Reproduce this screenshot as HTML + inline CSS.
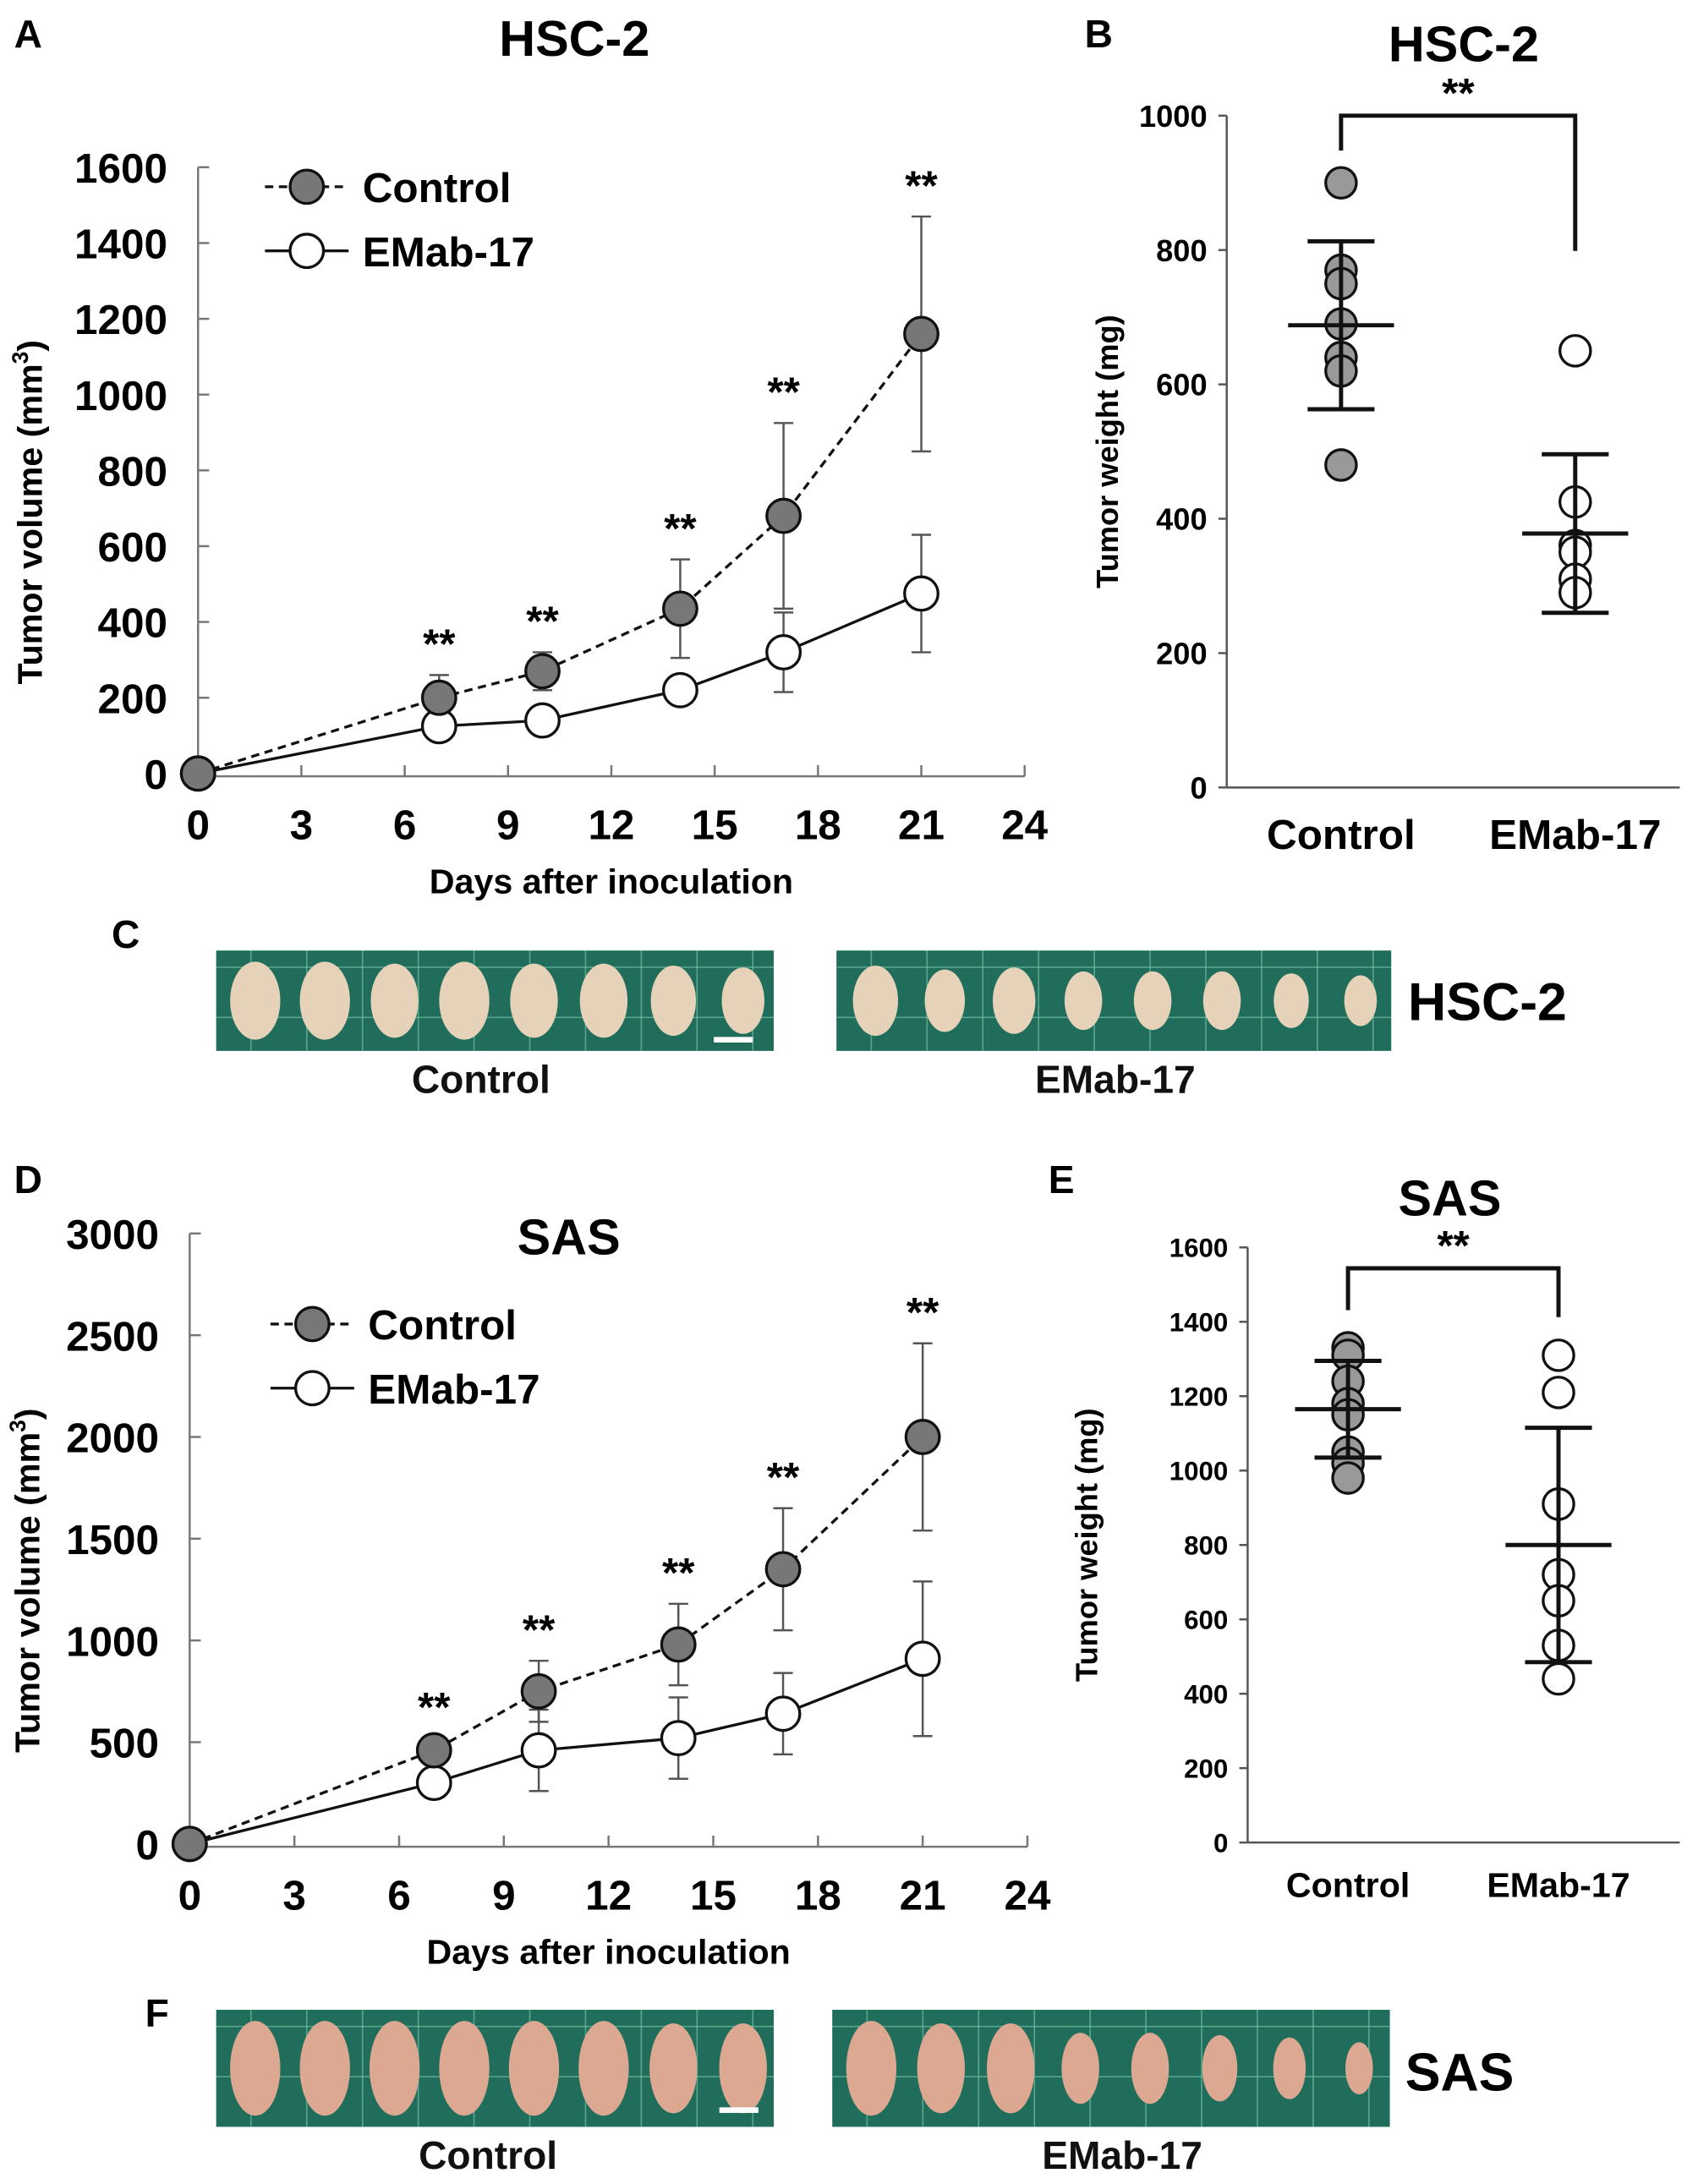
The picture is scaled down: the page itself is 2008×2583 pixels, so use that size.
<!DOCTYPE html>
<html><head><meta charset="utf-8">
<style>
html,body{margin:0;padding:0;background:#fff;}
svg{display:block;font-family:"Liberation Sans",Arial,sans-serif;font-weight:bold;}
</style></head>
<body>
<svg id="fig" width="2008" height="2583" viewBox="0 0 1218 1567" xmlns="http://www.w3.org/2000/svg">
<rect width="1218" height="1567" fill="#fff"/>
<g id="static">
<text x="10" y="34" font-size="28">A</text>
<text x="412" y="40" font-size="36" text-anchor="middle">HSC-2</text>
<text x="778" y="34" font-size="28">B</text>
<text x="1050" y="44" font-size="36" text-anchor="middle">HSC-2</text>
<text x="80" y="680" font-size="28">C</text>
<text x="10" y="856" font-size="28">D</text>
<text x="408" y="900" font-size="36" text-anchor="middle">SAS</text>
<text x="752" y="856" font-size="28">E</text>
<text x="1040" y="872" font-size="36" text-anchor="middle">SAS</text>
<text x="104" y="1454" font-size="28">F</text>
</g>
<g id="charts"></g>
<g id="photos"></g>
</svg>
<script>
const NS="http://www.w3.org/2000/svg";
// Panel A data
const daysA=[0,7,10,14,17,21];
const ctrlA=[0,200,270,435,680,1160];
const ctrlErrA=[0,60,50,130,245,310];
const emabA=[0,125,140,220,320,475];
const emabErrA=[0,25,20,30,105,155];
const yTicksA=[0,200,400,600,800,1000,1200,1400,1600];
const xTicks=[0,3,6,9,12,15,18,21,24];
// Panel D data
const daysD=[0,7,10,14,17,21];
const ctrlD=[0,460,750,980,1350,2000];
const ctrlErrD=[0,60,150,200,300,460];
const emabD=[0,300,460,520,640,910];
const emabErrD=[0,40,200,200,200,380];
const yTicksD=[0,500,1000,1500,2000,2500,3000];
// Panel B data
const ctrlB=[900,770,750,690,640,620,480];
const emabB=[650,425,360,350,310,290];
const meanB=[688,378];
const sdB=[125,118];
const yTicksB=[0,200,400,600,800,1000];
// Panel E data
const ctrlE=[1330,1310,1240,1180,1150,1050,1020,980];
const emabE=[1310,1210,910,720,650,530,440];
const meanE=[1165,800];
const sdE=[130,315];
const yTicksE=[0,200,400,600,800,1000,1200,1400,1600];
const groups=["Control","EMab-17"];

const root=document.getElementById('charts');
function el(tag,attrs,parent,text){const e=document.createElementNS(NS,tag);for(const k in attrs)e.setAttribute(k,attrs[k]);if(text!==undefined)e.textContent=text;(parent||root).appendChild(e);return e;}

function lineChart(cfg){
  const g=el('g',{});
  
  
  const sx=d=>cfg.x0+(d-cfg.dMin)*(cfg.x1-cfg.x0)/(cfg.dMax-cfg.dMin);
  const sy=v=>cfg.y0-(v)*(cfg.y0-cfg.y1)/cfg.vMax;
  // axes
  const ya=el('line',{x1:cfg.x0,y1:cfg.y1,x2:cfg.x0,y2:cfg.y0+2,stroke:'#777','stroke-width':1.5},g);
  
  const xa=el('line',{x1:cfg.x0,y1:cfg.y0+2,x2:cfg.x1,y2:cfg.y0+2,stroke:'#777','stroke-width':1.5},g);
  
  cfg.yTicks.forEach(v=>{
    el('line',{x1:cfg.x0,y1:sy(v),x2:cfg.x0+8,y2:sy(v),stroke:'#777','stroke-width':1.5},g);
    const t=el('text',{x:cfg.x0-22,y:sy(v)+11,'font-size':30,'text-anchor':'end'},g,String(v));
    
  });
  xTicks.forEach(d=>{
    el('line',{x1:sx(d),y1:cfg.y0+2,x2:sx(d),y2:cfg.y0-6,stroke:'#777','stroke-width':1.5},g);
    const t=el('text',{x:sx(d),y:cfg.y0+47,'font-size':30,'text-anchor':'middle'},g,String(d));
    
  });
  const xt=el('text',{x:(cfg.x0+cfg.x1)/2,y:cfg.y0+86,'font-size':25,'text-anchor':'middle'},g,'Days after inoculation');
  
  const ycx=cfg.yTitleX, ycy=(cfg.y0+cfg.y1)/2+30;
  const yt=el('text',{x:ycx,y:ycy,'font-size':25,'text-anchor':'middle',transform:`rotate(-90 ${ycx} ${ycy})`},g);
  
  yt.appendChild(document.createTextNode('Tumor volume (mm'));
  el('tspan',{'font-size':16,dy:-10},yt,'3');
  el('tspan',{dy:10},yt,')');
  // series
  const series=[[cfg.emab,cfg.emabErr,'#fff','none','emab'],[cfg.ctrl,cfg.ctrlErr,'#777','6,4','control']];
  series.forEach(([vals,errs,fill,dash,nm])=>{
    const pts=cfg.days.map((d,i)=>sx(d)+','+sy(vals[i])).join(' ');
    const pl=el('polyline',{points:pts,fill:'none',stroke:'#111','stroke-width':2,'stroke-dasharray':dash},g);
    
    cfg.days.forEach((d,i)=>{
      if(errs[i]>0){
        const x=sx(d),a=sy(vals[i]-errs[i]),b=sy(vals[i]+errs[i]);
        const eb=el('path',{d:`M${x},${a}V${b}M${x-7},${a}H${x+7}M${x-7},${b}H${x+7}`,stroke:'#555','stroke-width':1.5,fill:'none'},g);
        
      }
    });
  });
  series.forEach(([vals,errs,fill,dash,nm])=>{
    cfg.days.forEach((d,i)=>{
      const c=el('circle',{cx:sx(d),cy:sy(vals[i]),r:12,fill:fill,stroke:'#111','stroke-width':2},g);
      
    });
  });
  // stars
  cfg.days.forEach((d,i)=>{
    if(d===0)return;
    const s=el('text',{x:sx(d),y:sy(cfg.ctrl[i]+cfg.ctrlErr[i])-12,'font-size':30,'text-anchor':'middle'},g,'**');
    
  });
  // legend
  const lx=cfg.legX,ly=cfg.legY;
  const lg=el('g',{},g);
  
  el('line',{x1:lx,y1:ly,x2:lx+60,y2:ly,stroke:'#111','stroke-width':2,'stroke-dasharray':'6,4'},lg);
  el('circle',{cx:lx+30,cy:ly,r:12,fill:'#777',stroke:'#111','stroke-width':2},lg);
  el('text',{x:lx+70,y:ly+11,'font-size':30},lg,'Control');
  el('line',{x1:lx,y1:ly+46,x2:lx+60,y2:ly+46,stroke:'#111','stroke-width':2},lg);
  el('circle',{cx:lx+30,cy:ly+46,r:12,fill:'#fff',stroke:'#111','stroke-width':2},lg);
  el('text',{x:lx+70,y:ly+57,'font-size':30},lg,'EMab-17');
}

lineChart({name:'chart-a-hsc2-volume',x0:142,x1:735,y0:555,y1:120,dMin:0,dMax:24,vMax:1600,yTicks:yTicksA,
  days:daysA,ctrl:ctrlA,ctrlErr:ctrlErrA,emab:emabA,emabErr:emabErrA,yTitleX:30,legX:190,legY:134});
lineChart({name:'chart-d-sas-volume',x0:136,x1:737,y0:1323,y1:885,dMin:0,dMax:24,vMax:3000,yTicks:yTicksD,
  days:daysD,ctrl:ctrlD,ctrlErr:ctrlErrD,emab:emabD,emabErr:emabErrD,yTitleX:28,legX:194,legY:950});

function dotChart(cfg){
  const g=el('g',{});
  
  
  const sy=v=>cfg.y0-v*(cfg.y0-cfg.y1)/cfg.vMax;
  const ya=el('line',{x1:cfg.x0,y1:cfg.y1,x2:cfg.x0,y2:cfg.y0,stroke:'#555','stroke-width':1.5},g);
  
  const xa=el('line',{x1:cfg.x0,y1:cfg.y0,x2:cfg.xEnd,y2:cfg.y0,stroke:'#555','stroke-width':1.5},g);
  
  cfg.yTicks.forEach(v=>{
    el('line',{x1:cfg.x0-6,y1:sy(v),x2:cfg.x0,y2:sy(v),stroke:'#555','stroke-width':1.5},g);
    const t=el('text',{x:cfg.x0-14,y:sy(v)+cfg.fs*0.36,'font-size':cfg.fs,'text-anchor':'end'},g,String(v));
    
  });
  groups.forEach((n,i)=>{
    const t=el('text',{x:cfg.gx[i],y:cfg.y0+cfg.gfs+14,'font-size':cfg.gfs,'text-anchor':'middle'},g,n);
    
  });
  const ycx=cfg.yTitleX,ycy=(cfg.y0+cfg.y1)/2;
  const yt=el('text',{x:ycx,y:ycy,'font-size':22,'text-anchor':'middle',transform:`rotate(-90 ${ycx} ${ycy})`},g,'Tumor weight (mg)');
  
  [[cfg.ctrl,'#999','control'],[cfg.emab,'#fff','emab']].forEach(([vals,fill,nm],gi)=>{
    vals.forEach(v=>{
      const c=el('circle',{cx:cfg.gx[gi],cy:sy(v),r:11,fill:fill,stroke:'#111','stroke-width':2},g);
      
    });
    const x=cfg.gx[gi],m=sy(cfg.mean[gi]),a=sy(cfg.mean[gi]-cfg.sd[gi]),b=sy(cfg.mean[gi]+cfg.sd[gi]);
    const mb=el('path',{d:`M${x-38},${m}H${x+38}M${x},${a}V${b}M${x-24},${a}H${x+24}M${x-24},${b}H${x+24}`,stroke:'#111','stroke-width':3,fill:'none'},g);
    
  });
  const br=el('path',{d:`M${cfg.gx[0]},${cfg.brBot0}V${cfg.brTop}H${cfg.gx[1]}V${cfg.brBot1}`,stroke:'#111','stroke-width':3,fill:'none'},g);
  
  const s=el('text',{x:(cfg.gx[0]+cfg.gx[1])/2,y:cfg.brTop-6,'font-size':30,'text-anchor':'middle'},g,'**');
  
}
dotChart({name:'chart-b-hsc2-weight',x0:880,xEnd:1205,y0:565,y1:83,vMax:1000,yTicks:yTicksB,fs:22,gfs:30,gx:[962,1130],
  ctrl:ctrlB,emab:emabB,mean:meanB,sd:sdB,yTitleX:802,brTop:83,brBot0:108,brBot1:180});
dotChart({name:'chart-e-sas-weight',x0:895,xEnd:1205,y0:1322,y1:895,vMax:1600,yTicks:yTicksE,fs:19,gfs:25,gx:[967,1118],
  ctrl:ctrlE,emab:emabE,mean:meanE,sd:sdE,yTitleX:787,brTop:910,brBot0:940,brBot1:945});

// photo strips
const ph=document.getElementById('photos');
function strip(x,y,w,h,n,name,tone,scale,label,lx){
  const g=el('g',{},ph);
  
  el('rect',{x:x,y:y,width:w,height:h,fill:'#1f6d5a'},g);
  for(let gx=x+25;gx<x+w;gx+=40)el('line',{x1:gx,y1:y,x2:gx,y2:y+h,stroke:'#7fc9b0','stroke-width':1,opacity:0.6},g);
  for(let gy=y+12;gy<y+h;gy+=36)el('line',{x1:x,y1:gy,x2:x+w,y2:gy,stroke:'#7fc9b0','stroke-width':1,opacity:0.6},g);
  for(let i=0;i<n;i++){
    const cx=x+28+i*(w-50)/(n-1), s=scale[i];
    el('ellipse',{cx:cx,cy:y+h/2,rx:18*s,ry:(h/2-8)*s,fill:tone},g);
  }
  const t=el('text',{x:lx,y:y+h+30,'font-size':28,'text-anchor':'middle',fill:'#111'},g,label);
  
}
strip(155,682,400,72,8,'photo-hsc2-control','#e6d2b8',[1,1,0.95,1,0.95,0.95,0.9,0.85],'Control',345);
strip(600,682,398,72,8,'photo-hsc2-emab','#e6d2b8',[0.9,0.8,0.85,0.75,0.75,0.75,0.7,0.65],'EMab-17',800);
strip(155,1442,400,84,8,'photo-sas-control','#dca892',[1,1,1,1,1,1,0.95,0.95],'Control',350);
strip(597,1442,400,84,8,'photo-sas-emab','#dca892',[1,0.95,0.95,0.75,0.75,0.7,0.65,0.55],'EMab-17',805);
const t1=el('text',{x:1010,y:732,'font-size':38},ph,'HSC-2');

const t2=el('text',{x:1008,y:1500,'font-size':38},ph,'SAS');

el('rect',{x:512,y:744,width:28,height:4,fill:'#fff'},ph);
el('rect',{x:516,y:1512,width:28,height:4,fill:'#fff'},ph);
</script>
</body></html>
